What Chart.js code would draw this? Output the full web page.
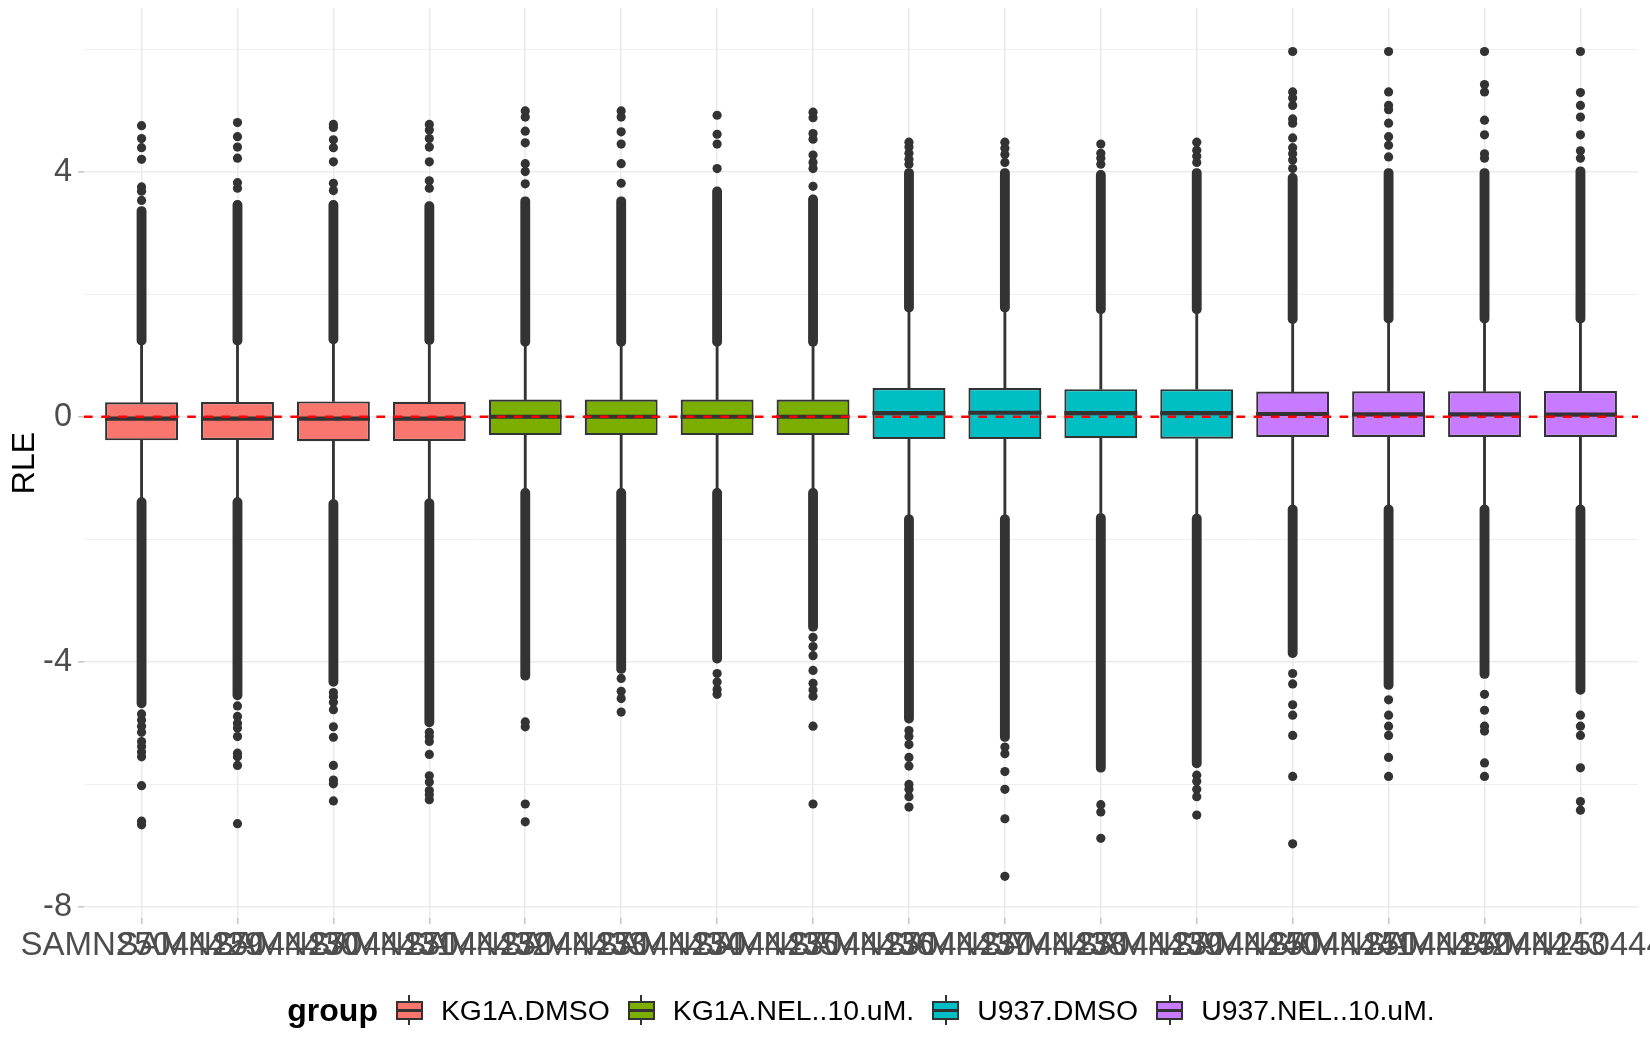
<!DOCTYPE html>
<html>
<head>
<meta charset="utf-8">
<script src="https://cdn.jsdelivr.net/npm/chart.js@4.4.1/dist/chart.umd.min.js"></script>
<style>
  html, body { margin: 0; padding: 0; background: #fff; }
  #wrap { position: relative; width: 1650px; height: 1050px; }
  #legend {
    position: absolute; left: 84px; width: 1554px; top: 990px; height: 40px;
    display: flex; align-items: center; justify-content: center;
    font-family: 'Liberation Sans', Arial, sans-serif; color: #000;
  }
  #legend .title { font-weight: bold; font-size: 32px; margin-right: 18px; }
  #legend .key { position: relative; width: 27px; height: 30px; margin-right: 18px; }
  #legend .key .wh { position: absolute; left: 12.5px; top: 0; width: 2px; height: 30px; background: #333; }
  #legend .key .bx { position: absolute; left: 0; top: 5.5px; width: 27px; height: 19px; box-sizing: border-box; border: 2.2px solid #333; }
  #legend .key .md { position: absolute; left: 0; top: 13.5px; width: 27px; height: 3px; background: #333; }
  #legend .lab { font-size: 28.4px; margin-right: 18px; }
  #legend .lab:last-child { margin-right: 0; }
</style>
</head>
<body>
<div id="wrap">
  <canvas id="chart"></canvas>
  <div id="legend"></div>
</div>
<script>
// sample labels and groups
const samples = ['SAMN25044429', 'SAMN25044430', 'SAMN25044431', 'SAMN25044432',
                 'SAMN25044433', 'SAMN25044434', 'SAMN25044435', 'SAMN25044436',
                 'SAMN25044437', 'SAMN25044438', 'SAMN25044439', 'SAMN25044440',
                 'SAMN25044441', 'SAMN25044442', 'SAMN25044443', 'SAMN25044444'];
const groups = ['KG1A.DMSO', 'KG1A.NEL..10.uM.', 'U937.DMSO', 'U937.NEL..10.uM.'];
const sampleGroup = [0, 0, 0, 0, 1, 1, 1, 1, 2, 2, 2, 2, 3, 3, 3, 3];

// box statistics (RLE)
const lowerHinge = [-0.385, -0.38, -0.40, -0.395, -0.30, -0.30, -0.30, -0.30, -0.365, -0.365, -0.35, -0.36, -0.33, -0.33, -0.33, -0.33];
const medians = [-0.03, -0.03, -0.03, -0.03, 0.0, 0.0, 0.0, 0.0, 0.06, 0.065, 0.06, 0.06, 0.045, 0.04, 0.04, 0.035];
const upperHinge = [0.235, 0.24, 0.25, 0.245, 0.28, 0.28, 0.28, 0.28, 0.47, 0.47, 0.45, 0.45, 0.41, 0.415, 0.415, 0.42];
const lowerWhisker = [-1.32, -1.32, -1.35, -1.34, -1.17, -1.17, -1.17, -1.17, -1.60, -1.60, -1.58, -1.59, -1.44, -1.44, -1.44, -1.44];
const upperWhisker = [1.17, 1.17, 1.19, 1.18, 1.15, 1.15, 1.15, 1.15, 1.71, 1.71, 1.68, 1.68, 1.52, 1.53, 1.53, 1.53];

// outliers: continuous runs of points beyond the whiskers, then the sparse ones
const upperRunTop = [3.43, 3.53, 3.53, 3.51, 3.59, 3.59, 3.75, 3.62, 4.05, 4.05, 4.02, 4.05, 3.97, 4.05, 4.05, 4.08];
const lowerRunEnd = [-4.75, -4.62, -4.40, -5.06, -4.30, -4.19, -4.02, -3.50, -5.00, -5.30, -5.80, -5.73, -3.93, -4.45, -4.27, -4.53];
const upperOutliers = [
  [3.53, 3.68, 3.75, 4.20, 4.39, 4.54, 4.75],
  [3.73, 3.82, 4.22, 4.40, 4.57, 4.80],
  [3.69, 3.81, 4.16, 4.39, 4.52, 4.72, 4.77],
  [3.73, 3.85, 4.16, 4.40, 4.54, 4.68, 4.77],
  [3.80, 4.00, 4.13, 4.47, 4.66, 4.89, 4.99],
  [3.81, 4.13, 4.45, 4.65, 4.89, 4.99],
  [4.05, 4.45, 4.61, 4.92],
  [3.76, 4.05, 4.15, 4.27, 4.53, 4.62, 4.88, 4.97],
  [4.12, 4.20, 4.30, 4.40, 4.48],
  [4.15, 4.28, 4.38, 4.48],
  [4.12, 4.22, 4.30, 4.45],
  [4.15, 4.25, 4.35, 4.48],
  [4.05, 4.19, 4.29, 4.39, 4.55, 4.79, 4.86, 5.08, 5.20, 5.30, 5.96],
  [4.24, 4.43, 4.57, 4.79, 5.01, 5.08, 5.30, 5.96],
  [4.22, 4.29, 4.60, 4.84, 5.30, 5.42, 5.96],
  [4.22, 4.34, 4.60, 4.89, 5.08, 5.29, 5.96]
];
const lowerOutliers = [
  [-4.85, -4.95, -5.05, -5.15, -5.30, -5.38, -5.47, -5.55, -6.02, -6.60, -6.66],
  [-4.72, -4.89, -5.00, -5.08, -5.22, -5.49, -5.55, -5.69, -6.64],
  [-4.50, -4.57, -4.66, -4.78, -5.06, -5.23, -5.69, -5.93, -5.99, -6.27],
  [-5.15, -5.22, -5.30, -5.51, -5.86, -5.96, -6.10, -6.17, -6.25],
  [-4.98, -5.06, -6.32, -6.61],
  [-4.27, -4.48, -4.60, -4.82],
  [-4.19, -4.33, -4.45, -4.53],
  [-3.60, -3.75, -3.90, -4.14, -4.35, -4.46, -4.56, -5.05, -6.32],
  [-5.12, -5.22, -5.35, -5.56, -5.70, -6.00, -6.08, -6.20, -6.37],
  [-5.39, -5.50, -5.79, -6.08, -6.56, -7.50],
  [-6.33, -6.45, -6.88],
  [-5.85, -5.95, -6.08, -6.20, -6.50],
  [-4.19, -4.36, -4.70, -4.87, -5.20, -5.87, -6.97],
  [-4.62, -4.87, -5.05, -5.20, -5.56, -5.87],
  [-4.53, -4.79, -5.05, -5.13, -5.65, -5.87],
  [-4.87, -5.05, -5.20, -5.73, -6.28, -6.42]
];

const yTicks = [-8, -6, -4, -2, 0, 2, 4, 6];
const refLine = 0;

const groupColors = ['#F8766D', '#7CAE00', '#00BFC4', '#C77CFF'];
const dark = '#333333';
const xMin = 0.4, xMax = 16.6, yMin = -8.18, yMax = 6.67;

Chart.defaults.font.family = "'Liberation Sans', Arial, sans-serif";

const boxSets = groups.map((g, gi) => ({
  type: 'bar',
  label: g,
  data: samples.map((s, i) => ({ x: i + 1, y: [lowerHinge[i], upperHinge[i]], g: sampleGroup[i] }))
               .filter(d => d.g === gi),
  backgroundColor: groupColors[gi],
  borderColor: dark,
  borderWidth: 2.2,
  borderSkipped: false,
  grouped: false,
  barPercentage: 0.76,
  categoryPercentage: 1,
  order: 3
}));

const whiskerData = [];
const runData = [];
const pointData = [];
samples.forEach((s, i) => {
  whiskerData.push({ x: i + 1, y: [upperHinge[i], upperWhisker[i]] });
  whiskerData.push({ x: i + 1, y: [lowerWhisker[i], lowerHinge[i]] });
  runData.push({ x: i + 1, y: [upperWhisker[i], upperRunTop[i]] });
  runData.push({ x: i + 1, y: [lowerRunEnd[i], lowerWhisker[i]] });
  upperOutliers[i].forEach(v => pointData.push({ x: i + 1, y: v }));
  lowerOutliers[i].forEach(v => pointData.push({ x: i + 1, y: v }));
});

const datasets = [
  ...boxSets,
  {
    type: 'bar', label: 'whiskers', data: whiskerData,
    backgroundColor: dark, barThickness: 2.2, grouped: false, order: 4
  },
  {
    type: 'bar', label: 'runs', data: runData,
    backgroundColor: dark, barThickness: 9.2, borderRadius: 4.6,
    borderSkipped: false, grouped: false, order: 2
  },
  {
    type: 'scatter', label: 'outliers', data: pointData,
    pointRadius: 4.6, pointBackgroundColor: dark, pointBorderWidth: 0, order: 2
  },
  {
    type: 'scatter', label: 'medians',
    data: medians.map((m, i) => ({ x: i + 1, y: m })),
    pointStyle: 'line', pointRadius: 36.5, pointBorderWidth: 4.2,
    pointBorderColor: dark, order: 1
  },
  {
    type: 'line', label: 'ref',
    data: [{ x: xMin, y: refLine }, { x: xMax, y: refLine }],
    borderColor: '#FF0000', borderWidth: 2.4, borderDash: [8.6, 8.6],
    pointRadius: 0, order: 0
  }
];

new Chart(document.getElementById('chart'), {
  type: 'bar',
  data: { datasets: datasets },
  options: {
    responsive: true,
    maintainAspectRatio: false,
    animation: false,
    events: [],
    layout: { autoPadding: false, padding: { top: 8, right: 12, bottom: 72, left: 0 } },
    plugins: { legend: { display: false }, tooltip: { enabled: false } },
    scales: {
      x: {
        type: 'linear', min: xMin, max: xMax, offset: false,
        border: { display: false },
        grid: { offset: false, color: '#EBEBEB', lineWidth: 1.6, tickLength: 6, tickColor: '#C8C8C8', tickWidth: 1.6 },
        ticks: {
          autoSkip: false, maxRotation: 0, minRotation: 0, padding: 2,
          color: '#4D4D4D', font: { size: 33 },
          callback: v => samples[Math.round(v) - 1]
        },
        afterBuildTicks: axis => { axis.ticks = samples.map((s, i) => ({ value: i + 1 })); },
        afterFit: axis => { axis.height = 60; axis.paddingLeft = 0; axis.paddingRight = 0; }
      },
      y: {
        type: 'linear', min: yMin, max: yMax,
        border: { display: false },
        grid: {
          color: '#EBEBEB',
          lineWidth: c => (c.tick && c.tick.value % 4 === 0) ? 1.6 : 0.8,
          tickLength: 6,
          tickColor: c => (c.tick && c.tick.value % 4 === 0) ? '#C8C8C8' : 'rgba(0,0,0,0)',
          tickWidth: 1.6
        },
        ticks: {
          padding: 6, color: '#4D4D4D', font: { size: 32.5 },
          callback: v => (v % 4 === 0 ? String(v) : '')
        },
        title: { display: true, text: 'RLE', color: '#000', font: { size: 32 }, padding: { top: 6, bottom: 0 } },
        afterBuildTicks: axis => { axis.ticks = yTicks.map(v => ({ value: v })); },
        afterFit: axis => { axis.width = 84; axis.paddingTop = 0; axis.paddingBottom = 0; }
      }
    }
  }
});

// legend (ggplot style, boxplot keys)
const legend = document.getElementById('legend');
let html = '<span class="title">group</span>';
groups.forEach((g, gi) => {
  html += '<span class="key"><span class="wh"></span><span class="bx" style="background:' + groupColors[gi] +
          '"></span><span class="md"></span></span><span class="lab">' + g + '</span>';
});
legend.innerHTML = html;
</script>
</body>
</html>
